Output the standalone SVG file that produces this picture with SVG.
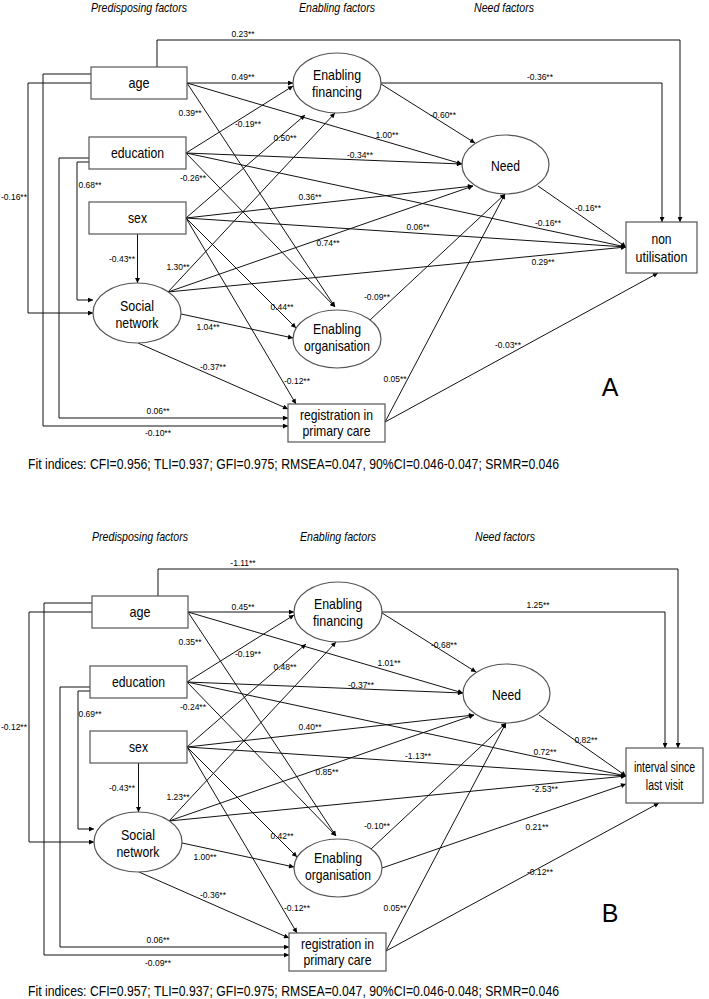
<svg xmlns="http://www.w3.org/2000/svg" width="709" height="999" viewBox="0 0 709 999">
<style>
.ln{stroke:#111;stroke-width:1;fill:none}
.a{marker-end:url(#ah)}
.bx{fill:#fff;stroke:#555;stroke-width:1.2}
.nt{font-family:'Liberation Sans Narrow','Liberation Sans',Arial,sans-serif;font-size:15px;text-anchor:middle;fill:#000}
.el{font-family:'Liberation Sans Narrow','Liberation Sans',Arial,sans-serif;font-size:8.5px;text-anchor:middle;fill:#000}
.hd{font-family:'Liberation Sans Narrow','Liberation Sans',Arial,sans-serif;font-size:13.5px;font-style:italic;text-anchor:middle;fill:#000}
.ft{font-family:'Liberation Sans Narrow','Liberation Sans',Arial,sans-serif;font-size:15px;fill:#000}
.pl{font-family:'Liberation Sans','Liberation Sans Narrow',Arial,sans-serif;font-size:25px;text-anchor:middle;fill:#000}
</style>
<defs>
<marker id="ah" viewBox="0 0 10 10" refX="10" refY="5" markerWidth="7" markerHeight="5" orient="auto" markerUnits="userSpaceOnUse"><path d="M0,0 L10,5 L0,10 z" fill="#000"/></marker>
</defs>
<rect width="709" height="999" fill="#fff"/>

<!-- ================= PANEL A ================= -->
<g id="panelA">
<text class="hd" x="139" y="12" textLength="96" lengthAdjust="spacingAndGlyphs">Predisposing factors</text>
<text class="hd" x="337" y="12" textLength="76" lengthAdjust="spacingAndGlyphs">Enabling factors</text>
<text class="hd" x="504" y="12" textLength="60" lengthAdjust="spacingAndGlyphs">Need factors</text>

<g id="a-connectors">
<path class="ln a" d="M157,67 V40 H680 V222"/>
<path class="ln a" d="M187,83 L293,83"/>
<path class="ln a" d="M187,83 L462,164"/>
<path class="ln a" d="M187,83 L335,307"/>
<path class="ln a" d="M91,83 H28 V313 H93"/>
<path class="ln a" d="M91,74 H43 V426 H288"/>
<path class="ln a" d="M186,153 L293,86"/>
<path class="ln a" d="M186,153 L462,164"/>
<path class="ln a" d="M186,153 L626,247"/>
<path class="ln a" d="M186,153 L335,307"/>
<path class="ln a" d="M89,162 H77 V300 H93"/>
<path class="ln a" d="M89,158 H59 V418 H288"/>
<path class="ln a" d="M186,218 L305,115"/>
<path class="ln a" d="M186,218 L473,186"/>
<path class="ln a" d="M186,218 L626,247"/>
<path class="ln a" d="M186,218 L296,328"/>
<path class="ln a" d="M186,218 L296,404"/>
<path class="ln a" d="M137.5,234 V283"/>
<path class="ln a" d="M168,292 L335,113"/>
<path class="ln a" d="M168,292 L473,186"/>
<path class="ln a" d="M168,292 L626,247"/>
<path class="ln a" d="M181,314 L293,338"/>
<path class="ln a" d="M138,343 L288,409"/>
<path class="ln a" d="M381,83 H662 V222"/>
<path class="ln a" d="M381,84 L475,143"/>
<path class="ln a" d="M538,186 L626,247"/>
<path class="ln a" d="M370,320 L505,194"/>
<path class="ln a" d="M385,422 L505,194"/>
<path class="ln a" d="M385,422 L658,273"/>
</g>

<g id="a-labels">
<text class="el" x="243" y="37">0.23**</text>
<text class="el" x="243" y="80">0.49**</text>
<text class="el" x="190" y="116">0.39**</text>
<text class="el" x="248" y="127">-0.19**</text>
<text class="el" x="285" y="141">0.50**</text>
<text class="el" x="387" y="138">1.00**</text>
<text class="el" x="360" y="158">-0.34**</text>
<text class="el" x="540" y="80">-0.36**</text>
<text class="el" x="443" y="118">-0.60**</text>
<text class="el" x="193" y="181">-0.26**</text>
<text class="el" x="310" y="200">0.36**</text>
<text class="el" x="328" y="246">0.74**</text>
<text class="el" x="178" y="270">1.30**</text>
<text class="el" x="282" y="310">0.44**</text>
<text class="el" x="208" y="330">1.04**</text>
<text class="el" x="213" y="370">-0.37**</text>
<text class="el" x="297" y="384">-0.12**</text>
<text class="el" x="395" y="382">0.05**</text>
<text class="el" x="508" y="348">-0.03**</text>
<text class="el" x="158" y="414">0.06**</text>
<text class="el" x="158" y="436">-0.10**</text>
<text class="el" x="14" y="200">-0.16**</text>
<text class="el" x="90" y="188">0.68**</text>
<text class="el" x="122" y="262">-0.43**</text>
<text class="el" x="377" y="300">-0.09**</text>
<text class="el" x="418" y="230">0.06**</text>
<text class="el" x="548" y="226">-0.16**</text>
<text class="el" x="543" y="265">0.29**</text>
<text class="el" x="588" y="211">-0.16**</text>
</g>

<g id="a-age"><rect class="bx" x="91" y="67" width="96" height="32"/><text class="nt" x="139" y="88" textLength="21" lengthAdjust="spacingAndGlyphs">age</text></g>
<g id="a-education"><rect class="bx" x="89" y="137" width="97" height="32"/><text class="nt" x="137.5" y="158" textLength="53" lengthAdjust="spacingAndGlyphs">education</text></g>
<g id="a-sex"><rect class="bx" x="89" y="202" width="97" height="32"/><text class="nt" x="137.5" y="223" textLength="19" lengthAdjust="spacingAndGlyphs">sex</text></g>
<g id="a-ef"><ellipse class="bx" cx="337" cy="83" rx="44" ry="30"/><text class="nt" x="337" y="80" textLength="48" lengthAdjust="spacingAndGlyphs">Enabling</text><text class="nt" x="337" y="97" textLength="50" lengthAdjust="spacingAndGlyphs">financing</text></g>
<g id="a-need"><ellipse class="bx" cx="505.5" cy="164.5" rx="43.5" ry="29.5"/><text class="nt" x="505.5" y="171" textLength="29" lengthAdjust="spacingAndGlyphs">Need</text></g>
<g id="a-sn"><ellipse class="bx" cx="137" cy="313" rx="44" ry="30"/><text class="nt" x="137" y="311" textLength="34" lengthAdjust="spacingAndGlyphs">Social</text><text class="nt" x="137" y="328" textLength="43" lengthAdjust="spacingAndGlyphs">network</text></g>
<g id="a-eo"><ellipse class="bx" cx="337" cy="339" rx="44" ry="29"/><text class="nt" x="337" y="334" textLength="48" lengthAdjust="spacingAndGlyphs">Enabling</text><text class="nt" x="337" y="351" textLength="66" lengthAdjust="spacingAndGlyphs">organisation</text></g>
<g id="a-reg"><rect class="bx" x="288" y="404" width="97" height="38"/><text class="nt" x="336.5" y="420" textLength="73" lengthAdjust="spacingAndGlyphs">registration in</text><text class="nt" x="336.5" y="436" textLength="68" lengthAdjust="spacingAndGlyphs">primary care</text></g>
<g id="a-nu"><rect class="bx" x="626" y="222" width="71" height="51"/><text class="nt" x="661.5" y="244" textLength="20" lengthAdjust="spacingAndGlyphs">non</text><text class="nt" x="661.5" y="262" textLength="52" lengthAdjust="spacingAndGlyphs">utilisation</text></g>

<text class="pl" x="610" y="396">A</text>
<text class="ft" x="28" y="469" textLength="531" lengthAdjust="spacingAndGlyphs">Fit indices: CFI=0.956; TLI=0.937; GFI=0.975; RMSEA=0.047, 90%CI=0.046-0.047; SRMR=0.046</text>
</g>

<!-- ================= PANEL B ================= -->
<g id="panelB" transform="translate(1,529)">
<text class="hd" x="139" y="12" textLength="96" lengthAdjust="spacingAndGlyphs">Predisposing factors</text>
<text class="hd" x="337" y="12" textLength="76" lengthAdjust="spacingAndGlyphs">Enabling factors</text>
<text class="hd" x="504" y="12" textLength="60" lengthAdjust="spacingAndGlyphs">Need factors</text>

<g id="b-connectors">
<path class="ln a" d="M157,67 V40 H677 V219"/>
<path class="ln a" d="M187,83 L293,83"/>
<path class="ln a" d="M187,83 L462,164"/>
<path class="ln a" d="M187,83 L335,307"/>
<path class="ln a" d="M91,83 H28 V313 H93"/>
<path class="ln a" d="M91,74 H43 V426 H288"/>
<path class="ln a" d="M186,153 L293,86"/>
<path class="ln a" d="M186,153 L462,164"/>
<path class="ln a" d="M186,153 L625,247"/>
<path class="ln a" d="M186,153 L335,307"/>
<path class="ln a" d="M89,162 H77 V300 H93"/>
<path class="ln a" d="M89,158 H59 V418 H288"/>
<path class="ln a" d="M186,218 L305,115"/>
<path class="ln a" d="M186,218 L473,186"/>
<path class="ln a" d="M186,218 L625,247"/>
<path class="ln a" d="M186,218 L296,328"/>
<path class="ln a" d="M186,218 L296,404"/>
<path class="ln a" d="M137.5,234 V283"/>
<path class="ln a" d="M168,292 L335,113"/>
<path class="ln a" d="M168,292 L473,186"/>
<path class="ln a" d="M168,292 L625,247"/>
<path class="ln a" d="M181,314 L293,338"/>
<path class="ln a" d="M138,343 L288,409"/>
<path class="ln a" d="M381,83 H664 V219"/>
<path class="ln a" d="M381,84 L475,143"/>
<path class="ln a" d="M538,186 L625,247"/>
<path class="ln a" d="M370,320 L505,194"/>
<path class="ln a" d="M385,422 L505,194"/>
<path class="ln a" d="M381,339 L625,255"/>
<path class="ln a" d="M385,422 L658,274"/>
</g>

<g id="b-labels">
<text class="el" x="242" y="37">-1.11**</text>
<text class="el" x="242" y="81">0.45**</text>
<text class="el" x="189" y="116">0.35**</text>
<text class="el" x="247" y="128">-0.19**</text>
<text class="el" x="284" y="141">0.48**</text>
<text class="el" x="537" y="79">1.25**</text>
<text class="el" x="443" y="119">-0.68**</text>
<text class="el" x="388" y="137">1.01**</text>
<text class="el" x="360" y="159">-0.37**</text>
<text class="el" x="192" y="181">-0.24**</text>
<text class="el" x="89" y="188">0.69**</text>
<text class="el" x="13" y="201">-0.12**</text>
<text class="el" x="309" y="201">0.40**</text>
<text class="el" x="585" y="214">0.82**</text>
<text class="el" x="544" y="226">0.72**</text>
<text class="el" x="417" y="230">-1.13**</text>
<text class="el" x="326" y="246">0.85**</text>
<text class="el" x="544" y="263">-2.53**</text>
<text class="el" x="121" y="262">-0.43**</text>
<text class="el" x="177" y="271">1.23**</text>
<text class="el" x="281" y="310">0.42**</text>
<text class="el" x="376" y="300">-0.10**</text>
<text class="el" x="536" y="301">0.21**</text>
<text class="el" x="204" y="331">1.00**</text>
<text class="el" x="212" y="369">-0.36**</text>
<text class="el" x="296" y="382">-0.12**</text>
<text class="el" x="394" y="382">0.05**</text>
<text class="el" x="539" y="346">-0.12**</text>
<text class="el" x="157" y="414">0.06**</text>
<text class="el" x="157" y="437">-0.09**</text>
</g>

<g id="b-age"><rect class="bx" x="91" y="67" width="96" height="32"/><text class="nt" x="139" y="88" textLength="21" lengthAdjust="spacingAndGlyphs">age</text></g>
<g id="b-education"><rect class="bx" x="89" y="137" width="97" height="32"/><text class="nt" x="137.5" y="158" textLength="53" lengthAdjust="spacingAndGlyphs">education</text></g>
<g id="b-sex"><rect class="bx" x="89" y="202" width="97" height="32"/><text class="nt" x="137.5" y="223" textLength="19" lengthAdjust="spacingAndGlyphs">sex</text></g>
<g id="b-ef"><ellipse class="bx" cx="337" cy="83" rx="44" ry="30"/><text class="nt" x="337" y="80" textLength="48" lengthAdjust="spacingAndGlyphs">Enabling</text><text class="nt" x="337" y="97" textLength="50" lengthAdjust="spacingAndGlyphs">financing</text></g>
<g id="b-need"><ellipse class="bx" cx="505.5" cy="164.5" rx="43.5" ry="29.5"/><text class="nt" x="505.5" y="171" textLength="29" lengthAdjust="spacingAndGlyphs">Need</text></g>
<g id="b-sn"><ellipse class="bx" cx="137" cy="313" rx="44" ry="30"/><text class="nt" x="137" y="311" textLength="34" lengthAdjust="spacingAndGlyphs">Social</text><text class="nt" x="137" y="328" textLength="43" lengthAdjust="spacingAndGlyphs">network</text></g>
<g id="b-eo"><ellipse class="bx" cx="337" cy="339" rx="44" ry="29"/><text class="nt" x="337" y="334" textLength="48" lengthAdjust="spacingAndGlyphs">Enabling</text><text class="nt" x="337" y="351" textLength="66" lengthAdjust="spacingAndGlyphs">organisation</text></g>
<g id="b-reg"><rect class="bx" x="288" y="404" width="97" height="38"/><text class="nt" x="336.5" y="420" textLength="73" lengthAdjust="spacingAndGlyphs">registration in</text><text class="nt" x="336.5" y="436" textLength="68" lengthAdjust="spacingAndGlyphs">primary care</text></g>
<g id="b-interval"><rect class="bx" x="625" y="219" width="77" height="55"/><text class="nt" transform="translate(663.5,243) scale(0.7,1)" x="0" y="0">interval since</text><text class="nt" transform="translate(663.5,261) scale(0.7,1)" x="0" y="0">last visit</text></g>

<text class="pl" x="609" y="393">B</text>
<text class="ft" x="27" y="467" textLength="531" lengthAdjust="spacingAndGlyphs">Fit indices: CFI=0.957; TLI=0.937; GFI=0.975; RMSEA=0.047, 90%CI=0.046-0.048; SRMR=0.046</text>
</g>
</svg>
